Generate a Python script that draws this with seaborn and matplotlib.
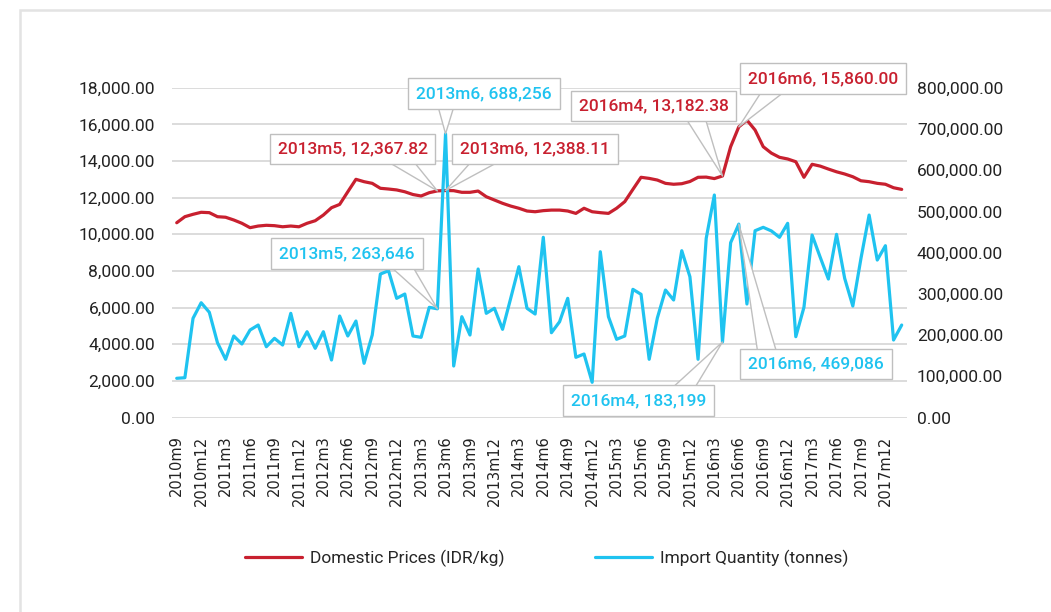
import numpy as np
import pandas as pd
import matplotlib.pyplot as plt
import seaborn as sns
from matplotlib.patches import Rectangle
from matplotlib.ticker import FuncFormatter

# monthly categories, 2010m9 .. 2018m2
all_months = [f"{y}m{m}" for y in range(2010, 2019) for m in range(1, 13)]
months = all_months[all_months.index("2010m9"):all_months.index("2018m2") + 1]
tick_labels = months[0:88:3]

# domestic prices (IDR/kg), left axis
price = [10630, 10960, 11090, 11200, 11180, 10960, 10930, 10780, 10600, 10360,
         10450, 10490, 10470, 10410, 10450, 10410, 10600, 10740, 11050, 11450,
         11630, 12320, 13000, 12870, 12780, 12510, 12470, 12420, 12320, 12170,
         12090, 12270, 12367.82, 12388.11, 12380, 12290, 12290, 12360, 12050, 11870,
         11690, 11540, 11420, 11270, 11230, 11290, 11320, 11320, 11270, 11140,
         11420, 11230, 11180, 11140, 11420, 11780, 12450, 13110, 13050, 12960,
         12780, 12730, 12760, 12880, 13110, 13120, 13040, 13182.38, 14780, 15860,
         16230, 15690, 14780, 14430, 14200, 14110, 13960, 13110, 13820, 13720,
         13560, 13410, 13290, 13140, 12920, 12870, 12780, 12730, 12540, 12450]

# import quantity (tonnes), right axis
imports = [95100, 96500, 240600, 278400, 255200, 181400, 141200, 197700, 178300, 212200,
           224300, 171700, 192100, 175800, 252700, 171700, 208100, 167800, 208100, 139500,
           246200, 197700, 234000, 131500, 200100, 348000, 356000, 289100, 299500, 197700,
           194500, 267300, 263646, 688256, 124900, 244500, 200100, 360200, 252700, 264900,
           213900, 289100, 365800, 264900, 251000, 437100, 205700, 232300, 289100, 146000,
           154000, 85400, 402100, 244500, 189700, 197700, 310900, 298800, 141200, 241300,
           309200, 285000, 404600, 341500, 141200, 434600, 539700, 183199, 424000, 469086,
           275300, 453100, 461300, 452600, 437100, 471000, 196000, 267300, 442600, 388500,
           335900, 444300, 337600, 270400, 386100, 491100, 382000, 416700, 188000, 224300]

RED = "#C8202F"
BLUE = "#1FC3F0"
GRID = "#d9d9d9"

sns.set_theme(style="white")
plt.rcParams['font.family'] = ['Roboto', 'DejaVu Sans']

fig, ax1 = plt.subplots(figsize=(10.51, 6.12), dpi=100)
fig.subplots_adjust(left=0.1634, right=0.8627, bottom=0.3178, top=0.8567)

sns.lineplot(x=months, y=price, ax=ax1, color=RED, lw=2.3, sort=False,
             label="Domestic Prices (IDR/kg)", legend=False)
ax2 = ax1.twinx()
sns.lineplot(x=months, y=imports, ax=ax2, color=BLUE, lw=2.3, sort=False,
             label="Import Quantity (tonnes)", legend=False)

ax1.set_xlim(-0.614, len(months) - 1 + 0.614)
ax1.set_ylim(0, 18000)
ax1.set_yticks(np.arange(0, 18001, 2000))
ax2.set_ylim(0, 800000)
ax2.set_yticks(np.arange(0, 800001, 100000))
fmt = FuncFormatter(lambda v, p: f"{v:,.2f}")
ax1.yaxis.set_major_formatter(fmt)
ax2.yaxis.set_major_formatter(fmt)

ax1.set_xticks(tick_labels)
ax1.set_xticklabels(tick_labels, rotation=90, family='DejaVu Sans', fontsize=10.5, color='#222222')
ax1.tick_params(axis='x', length=0, pad=13)
ax1.tick_params(axis='y', length=0, pad=12, labelsize=12.5, labelcolor='#222222')
ax2.tick_params(axis='y', length=0, pad=7.4, labelsize=12.5, labelcolor='#222222')
ax1.set_xlabel("")
ax1.set_ylabel("")
ax2.set_ylabel("")

ax1.yaxis.grid(True, color=GRID, lw=1.3)
ax1.xaxis.grid(False)
ax2.grid(False)
ax1.set_axisbelow(True)
for a in (ax1, ax2):
    for s in a.spines.values():
        s.set_visible(False)

# callouts: (axis transform, values, month, text centre in figure px, wedge start on box)
callouts = [
    (ax2, imports, "2013m6", (484, 518.5), (0.22, 0), "{:,.0f}", BLUE),
    (ax1, price, "2013m5", (352.5, 463), (0.80, 0), "{:,.2f}", RED),
    (ax1, price, "2013m6", (535, 463), (0.19, 0), "{:,.2f}", RED),
    (ax1, price, "2016m4", (653.5, 506), (0.77, 0), "{:,.2f}", RED),
    (ax1, price, "2016m6", (823, 533.5), (0.19, 0), "{:,.2f}", RED),
    (ax2, imports, "2013m5", (347, 358.5), (0.88, 0), "{:,.0f}", BLUE),
    (ax2, imports, "2016m4", (638.5, 211.3), (0.81, 1), "{:,.0f}", BLUE),
    (ax2, imports, "2016m6", (816, 248), (0.146, 1), "{:,.0f}", BLUE),
]
for src, vals, m, pos, rel, vf, col in callouts:
    i = months.index(m)
    ax2.annotate(f"{m}, " + vf.format(vals[i]), xy=(i, vals[i]), xycoords=src.transData,
                 xytext=pos, textcoords='figure pixels', ha='center', va='center',
                 fontsize=12.5, fontweight='medium', color=col,
                 bbox=dict(boxstyle='square,pad=0.45', fc='white', ec='#bfbfbf', lw=1),
                 arrowprops=dict(arrowstyle='wedge,tail_width=1.1,shrink_factor=0.5',
                                 fc='white', ec='#bfbfbf', lw=1, relpos=rel,
                                 shrinkA=0, shrinkB=0, patchA=None))

handles = [ax1.get_lines()[0], ax2.get_lines()[0]]
fig.legend(handles, [h.get_label() for h in handles], loc='center',
           bbox_to_anchor=(0.52, 0.088), ncol=2, frameon=False, fontsize=12.5,
           handlelength=3.3, handletextpad=0.45, columnspacing=5.2)

fig.patches.append(Rectangle((20 / 1051, -0.1), 1.2, 1.1 - 10 / 612, transform=fig.transFigure,
                             fill=False, ec='#e3e3e3', lw=1.8))

fig.savefig("out.png", dpi=100)
